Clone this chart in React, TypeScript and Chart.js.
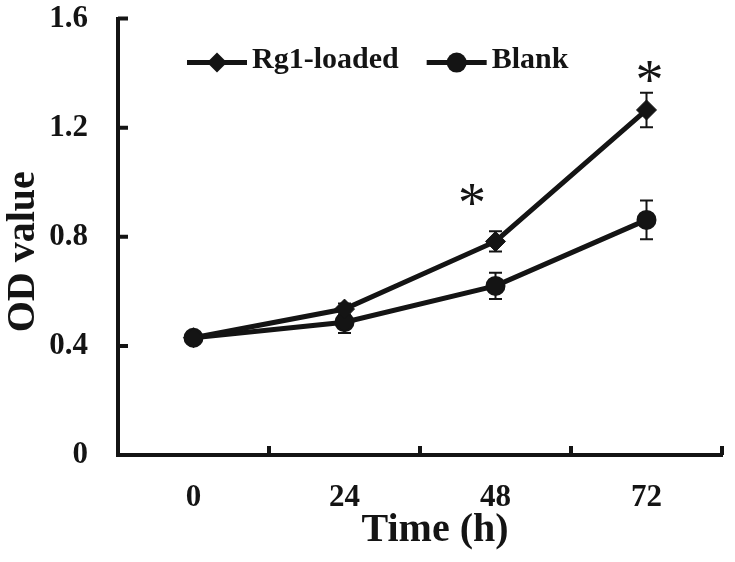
import React, { useEffect, useRef } from 'react';
import { Chart, registerables } from 'chart.js';

Chart.register(...registerables);

// ---- data ----
const timeLabels = ['0', '24', '48', '72'];
const rg1Values = [0.43, 0.535, 0.783, 1.265];
const rg1Errors = [0.012, 0.02, 0.037, 0.063];
const blankValues = [0.43, 0.487, 0.62, 0.862];
const blankErrors = [0.012, 0.04, 0.048, 0.071];
const yTickValues = [0, 0.4, 0.8, 1.2, 1.6];
// significance asterisks, x in category-index units, y in OD units
const starX = [1.845, 3.02];
const starY = [0.953, 1.405];

const INK = '#141414';
const SERIF = "'Liberation Serif', 'Times New Roman', serif";

const errorBarPlugin = {
  id: 'errorBars',
  beforeDatasetsDraw(chart: any) {
    const { ctx } = chart;
    const yScale = chart.scales.y;
    ctx.save();
    ctx.strokeStyle = INK;
    ctx.lineWidth = 2;
    chart.data.datasets.forEach((ds: any, i: number) => {
      const meta = chart.getDatasetMeta(i);
      meta.data.forEach((pt: any, j: number) => {
        const v = ds.data[j];
        const e = ds.errors[j];
        const top = yScale.getPixelForValue(v + e);
        const bot = yScale.getPixelForValue(v - e);
        const cap = 6.5;
        ctx.beginPath();
        ctx.moveTo(pt.x, top);
        ctx.lineTo(pt.x, bot);
        ctx.moveTo(pt.x - cap, top);
        ctx.lineTo(pt.x + cap, top);
        ctx.moveTo(pt.x - cap, bot);
        ctx.lineTo(pt.x + cap, bot);
        ctx.stroke();
      });
    });
    ctx.restore();
  },
};

const innerTicksPlugin = {
  id: 'innerTicks',
  afterDraw(chart: any) {
    const { ctx, chartArea } = chart;
    const xs = chart.scales.x;
    const ys = chart.scales.y;
    ctx.save();
    ctx.strokeStyle = INK;
    ctx.lineWidth = 4;
    ctx.beginPath();
    yTickValues.forEach((v) => {
      if (v === 0) return;
      const py = ys.getPixelForValue(v);
      ctx.moveTo(chartArea.left, py);
      ctx.lineTo(chartArea.left + 10, py);
    });
    for (let i = 0; i < timeLabels.length; i++) {
      const px = xs.getPixelForValue(i + 0.5);
      ctx.moveTo(px, chartArea.bottom);
      ctx.lineTo(px, chartArea.bottom - 9);
    }
    ctx.stroke();
    ctx.restore();
  },
};

const starPlugin = {
  id: 'stars',
  afterDatasetsDraw(chart: any) {
    const { ctx } = chart;
    const xs = chart.scales.x;
    const ys = chart.scales.y;
    ctx.save();
    ctx.fillStyle = INK;
    ctx.font = `normal 56px ${SERIF}`;
    ctx.textAlign = 'center';
    ctx.textBaseline = 'alphabetic';
    const m = ctx.measureText('*');
    const shift = (m.actualBoundingBoxAscent - m.actualBoundingBoxDescent) / 2;
    starX.forEach((sx, k) => {
      const px = xs.getPixelForValue(sx);
      const py = ys.getPixelForValue(starY[k]);
      ctx.fillText('*', px, py + shift);
    });
    ctx.restore();
  },
};

function drawMarker(ctx: CanvasRenderingContext2D, style: string, x: number, y: number, r: number) {
  ctx.beginPath();
  if (style === 'rectRot') {
    ctx.moveTo(x, y - r);
    ctx.lineTo(x + r, y);
    ctx.lineTo(x, y + r);
    ctx.lineTo(x - r, y);
    ctx.closePath();
  } else {
    ctx.arc(x, y, r, 0, Math.PI * 2);
  }
  ctx.fill();
}

const lineLegendPlugin = {
  id: 'lineLegend',
  afterDraw(chart: any) {
    const { ctx, chartArea } = chart;
    ctx.save();
    ctx.font = `bold 30px ${SERIF}`;
    ctx.textBaseline = 'middle';
    ctx.textAlign = 'left';
    let x = chartArea.left + 69;
    const yLine = chartArea.top + 44;
    const yText = chartArea.top + 42;
    chart.data.datasets.forEach((ds: any) => {
      ctx.strokeStyle = INK;
      ctx.fillStyle = INK;
      ctx.lineWidth = 5;
      ctx.beginPath();
      ctx.moveTo(x, yLine);
      ctx.lineTo(x + 60, yLine);
      ctx.stroke();
      drawMarker(ctx, ds.pointStyle, x + 30, yLine, 10);
      ctx.fillText(ds.label, x + 65, yText);
      x += 65 + ctx.measureText(ds.label).width + 28;
    });
    ctx.restore();
  },
};

export default function App() {
  const canvasRef = useRef<HTMLCanvasElement | null>(null);

  useEffect(() => {
    if (!canvasRef.current) return;
    const chart = new Chart(canvasRef.current, {
      type: 'line',
      data: {
        labels: timeLabels,
        datasets: [
          {
            label: 'Rg1-loaded',
            data: rg1Values,
            errors: rg1Errors,
            borderColor: INK,
            backgroundColor: INK,
            borderWidth: 5,
            pointStyle: 'rectRot',
            pointRadius: 10,
            pointBorderWidth: 1,
            pointBackgroundColor: INK,
            pointBorderColor: INK,
            tension: 0,
          } as any,
          {
            label: 'Blank',
            data: blankValues,
            errors: blankErrors,
            borderColor: INK,
            backgroundColor: INK,
            borderWidth: 5,
            pointStyle: 'circle',
            pointRadius: 9,
            pointBorderWidth: 2,
            pointBackgroundColor: INK,
            pointBorderColor: INK,
            tension: 0,
          } as any,
        ],
      },
      options: {
        responsive: false,
        animation: false,
        layout: { padding: { left: 0, right: 13, top: 0, bottom: 0 } },
        plugins: {
          legend: { display: false },
          tooltip: { enabled: false },
        },
        scales: {
          x: {
            type: 'category',
            offset: true,
            grid: { display: false, drawTicks: false },
            border: { display: true, width: 4, color: INK },
            ticks: {
              color: INK,
              font: { family: SERIF, size: 31, weight: 'bold' },
              padding: 24,
              maxRotation: 0,
              autoSkip: false,
            },
            title: {
              display: true,
              text: '   Time (h)',
              color: INK,
              font: { family: SERIF, size: 40, weight: 'bold' },
              padding: { top: 0, bottom: 7 },
            },
            afterFit: (s: any) => {
              s.height = 107;
            },
          },
          y: {
            min: 0,
            max: 1.6,
            afterBuildTicks: (s: any) => {
              s.ticks = yTickValues.map((v) => ({ value: v }));
            },
            grid: { display: false, drawTicks: true, tickLength: 30 },
            border: { display: true, width: 4, color: INK },
            ticks: {
              color: INK,
              font: { family: SERIF, size: 31, weight: 'bold' },
              padding: 0,
            },
            title: {
              display: true,
              text: 'OD value   ',
              color: INK,
              font: { family: SERIF, size: 40, weight: 'bold' },
              padding: { top: 0, bottom: 0 },
            },
            afterFit: (s: any) => {
              s.width = 118;
            },
          },
        },
      } as any,
      plugins: [errorBarPlugin, starPlugin, innerTicksPlugin, lineLegendPlugin],
    });
    return () => chart.destroy();
  }, []);

  return (
    <div style={{ position: 'absolute', left: 0, top: 0, width: 735, height: 562, background: '#fff' }}>
      <canvas ref={canvasRef} width={735} height={562} style={{ display: 'block' }} />
    </div>
  );
}
